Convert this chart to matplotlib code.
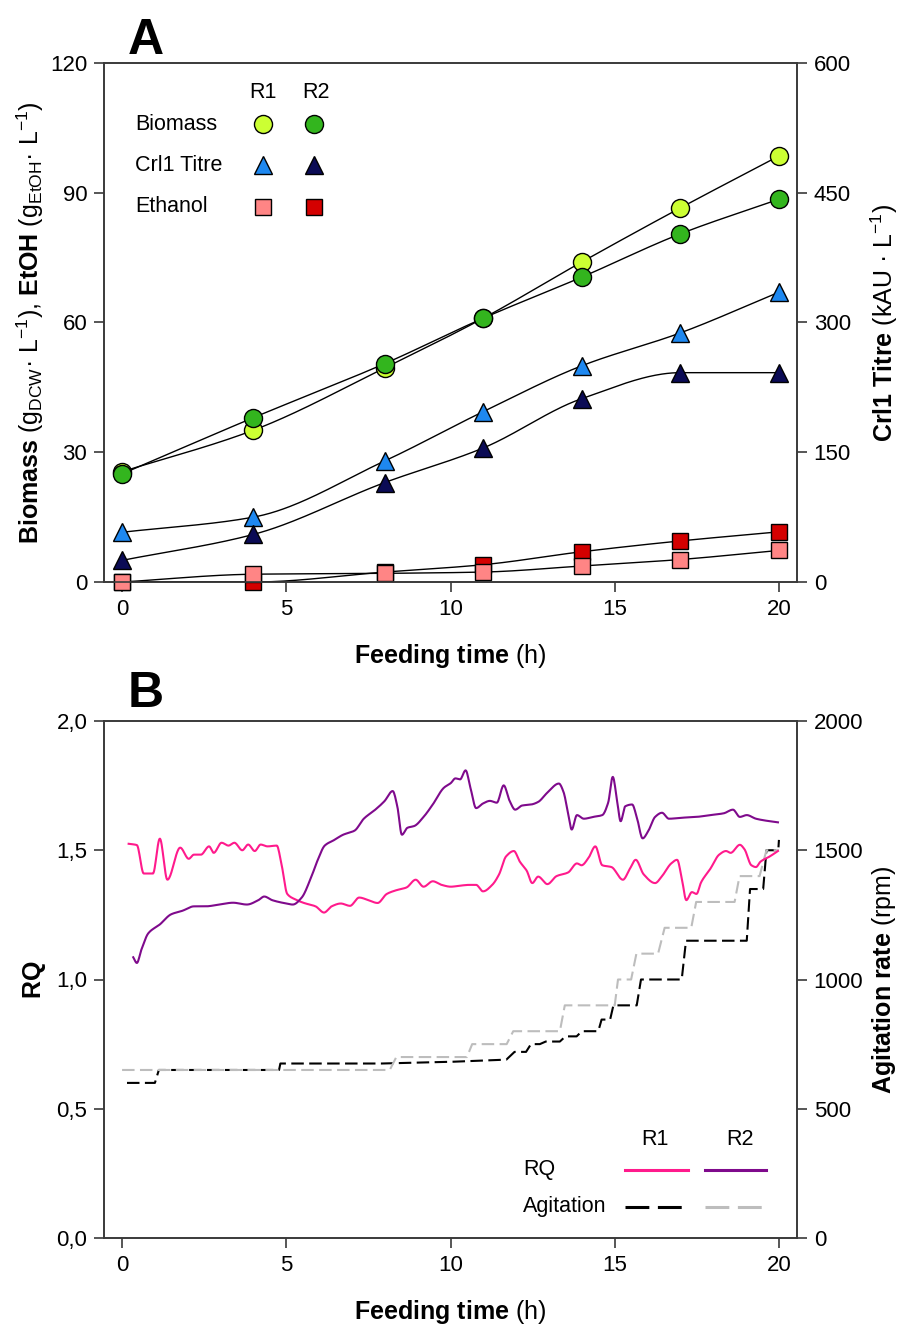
import numpy as np
import matplotlib
matplotlib.use("Agg")
import matplotlib.pyplot as plt

plt.rcParams['font.family'] = ['Liberation Sans', 'DejaVu Sans']
plt.rcParams['mathtext.fontset'] = 'custom'
plt.rcParams['mathtext.rm'] = 'Liberation Sans'
plt.rcParams['mathtext.bf'] = 'Liberation Sans:bold'
plt.rcParams['mathtext.it'] = 'Liberation Sans:italic'

# ---------------- data: panel A ----------------
time_h = [0, 4, 8, 11, 14, 17, 20]
biomass_r1 = [25.5, 35.1, 49.5, 61.0, 74.0, 86.5, 98.5]
biomass_r2 = [25.0, 38.0, 50.5, 61.0, 70.5, 80.5, 88.5]
titre_r1 = [57.5, 75, 140, 197, 250, 288, 335]      # kAU/L
titre_r2 = [25, 55, 115, 155, 212, 242, 242]        # kAU/L
ethanol_r1 = [0.0, 1.8, 2.0, 2.3, 3.7, 5.2, 7.3]
ethanol_r2 = [0.0, 0.0, 2.3, 4.0, 7.0, 9.5, 11.6]

# ---------------- data: panel B ----------------
rq_r1_t = [0.2, 0.45, 0.66, 0.94, 1.15, 1.38, 1.77, 2.03, 2.19, 2.4, 2.65, 2.79, 3.03, 3.24, 3.42, 3.66,
           3.84, 4.04, 4.22, 4.43, 4.71, 4.85, 5.03, 5.27, 5.54, 5.89, 6.15, 6.38, 6.66, 6.94, 7.22, 7.5,
           7.78, 8.06, 8.34, 8.66, 8.94, 9.18, 9.46, 9.73, 10.01, 10.29, 10.57, 10.78, 10.99, 11.27, 11.48,
           11.69, 11.93, 12.11, 12.32, 12.49, 12.67, 12.95, 13.23, 13.58, 13.85, 13.99, 14.2, 14.41, 14.62,
           14.9, 15.25, 15.46, 15.64, 15.88, 16.23, 16.44, 16.72, 16.9, 17.04, 17.18, 17.35, 17.49, 17.63,
           17.91, 18.18, 18.39, 18.53, 18.81, 18.95, 19.16, 19.3, 19.44, 19.72, 19.97]
rq_r1 = [1.525, 1.52, 1.41, 1.41, 1.545, 1.386, 1.51, 1.467, 1.483, 1.483, 1.515, 1.49, 1.529, 1.518, 1.529,
         1.5, 1.522, 1.497, 1.522, 1.515, 1.518, 1.449, 1.331, 1.31, 1.296, 1.283, 1.259, 1.283, 1.294, 1.285,
         1.317, 1.307, 1.296, 1.331, 1.345, 1.356, 1.386, 1.359, 1.38, 1.366, 1.359, 1.363, 1.366, 1.366,
         1.341, 1.366, 1.407, 1.476, 1.497, 1.456, 1.421, 1.373, 1.398, 1.369, 1.4, 1.414, 1.449, 1.442,
         1.47, 1.515, 1.442, 1.435, 1.386, 1.428, 1.463, 1.407, 1.373, 1.4, 1.449, 1.463, 1.393, 1.307,
         1.338, 1.331, 1.376, 1.428, 1.483, 1.497, 1.49, 1.521, 1.504, 1.442, 1.435, 1.456, 1.476, 1.497]

rq_r2_t = [0.34, 0.45, 0.59, 0.8, 1.15, 1.49, 1.84, 2.19, 2.54, 2.96, 3.38, 3.8, 4.15, 4.33, 4.57, 4.92, 5.2,
           5.47, 5.75, 5.96, 6.17, 6.45, 6.73, 7.08, 7.36, 7.71, 7.99, 8.24, 8.38, 8.52, 8.69, 8.9, 9.18,
           9.46, 9.8, 10.01, 10.15, 10.29, 10.46, 10.61, 10.78, 10.99, 11.2, 11.41, 11.62, 11.8, 11.97,
           12.18, 12.46, 12.67, 12.95, 13.3, 13.44, 13.58, 13.69, 13.85, 14.06, 14.34, 14.62, 14.8, 14.94,
           15.08, 15.18, 15.32, 15.53, 15.67, 15.85, 16.02, 16.23, 16.44, 16.65, 17.07, 17.49, 17.91,
           18.32, 18.6, 18.81, 19.02, 19.3, 19.58, 19.97]
rq_r2 = [1.086, 1.064, 1.116, 1.179, 1.213, 1.252, 1.266, 1.283, 1.283, 1.29, 1.297, 1.29, 1.307, 1.321,
         1.307, 1.296, 1.29, 1.317, 1.393, 1.463, 1.518, 1.539, 1.56, 1.576, 1.622, 1.657, 1.69, 1.729,
         1.67, 1.56, 1.587, 1.594, 1.629, 1.677, 1.742, 1.76, 1.778, 1.774, 1.809, 1.74, 1.663, 1.681,
         1.691, 1.684, 1.751, 1.691, 1.657, 1.673, 1.677, 1.687, 1.723, 1.758, 1.726, 1.643, 1.58, 1.636,
         1.622, 1.629, 1.636, 1.684, 1.784, 1.684, 1.612, 1.67, 1.677, 1.629, 1.546, 1.574, 1.629, 1.645,
         1.622, 1.626, 1.629, 1.636, 1.643, 1.657, 1.629, 1.636, 1.622, 1.615, 1.608]

agit_r1_t = [0.15, 1.0, 1.12, 4.78, 4.82, 7.9, 10.1, 11.7, 11.95, 12.3, 12.45, 12.72, 12.9, 13.33, 13.5,
             13.84, 14.0, 14.5, 14.6, 14.86, 14.96, 15.67, 15.8, 17.04, 17.17, 19.02, 19.12, 19.52, 19.62,
             19.98, 20.0]
agit_r1 = [600, 600, 650, 650, 675, 675, 682, 690, 720, 720, 750, 750, 760, 760, 780, 780, 800, 800, 845,
           845, 900, 900, 1000, 1000, 1150, 1150, 1350, 1350, 1500, 1500, 1540]
agit_r2_t = [0.0, 8.15, 8.35, 10.5, 10.66, 11.71, 11.91, 13.33, 13.48, 15.0, 15.1, 15.5, 15.66, 16.32,
             16.52, 17.33, 17.48, 18.65, 18.8, 19.41, 19.62, 20.0]
agit_r2 = [650, 650, 700, 700, 750, 750, 800, 800, 900, 900, 1000, 1000, 1100, 1100, 1200, 1200, 1300,
           1300, 1400, 1400, 1500, 1500]

xticks = [0, 5, 10, 15, 20]
a_left_ticks = [0, 30, 60, 90, 120]
a_right_ticks = [0, 150, 300, 450, 600]
b_left_ticks = [0.0, 0.5, 1.0, 1.5, 2.0]
b_left_labels = ['0,0', '0,5', '1,0', '1,5', '2,0']
b_right_ticks = [0, 500, 1000, 1500, 2000]

# colours
C_BIO1, C_BIO2 = '#CCFF33', '#33B51E'
C_TIT1, C_TIT2 = '#1E88F0', '#0B0B55'
C_ETH1, C_ETH2 = '#FF8585', '#D40000'
C_RQ1, C_RQ2 = '#FF1A8C', '#7F0A8C'
C_AG1, C_AG2 = '#000000', '#BDBDBD'


def pchip(x, y, xs):
    x = np.asarray(x, float); y = np.asarray(y, float); xs = np.asarray(xs, float)
    h = np.diff(x); d = np.diff(y) / h
    n = len(x); m = np.zeros(n)
    for k in range(1, n - 1):
        if d[k - 1] * d[k] <= 0:
            m[k] = 0.0
        else:
            w1 = 2 * h[k] + h[k - 1]; w2 = h[k] + 2 * h[k - 1]
            m[k] = (w1 + w2) / (w1 / d[k - 1] + w2 / d[k])
    m[0] = d[0]; m[-1] = d[-1]
    idx = np.clip(np.searchsorted(x, xs) - 1, 0, n - 2)
    hh = h[idx]; t = (xs - x[idx]) / hh
    h00 = 2 * t**3 - 3 * t**2 + 1; h10 = t**3 - 2 * t**2 + t
    h01 = -2 * t**3 + 3 * t**2; h11 = t**3 - t**2
    return h00 * y[idx] + h10 * hh * m[idx] + h01 * y[idx + 1] + h11 * hh * m[idx + 1]


W, H = 906, 1333
fig = plt.figure(figsize=(W / 100, H / 100), dpi=100)

SP = '#3a3a3a'
TICK_FS = 16
LAB_FS = 18


def style(ax):
    for s in ax.spines.values():
        s.set_color(SP); s.set_linewidth(1.2)
    ax.tick_params(direction='out', length=7, width=1.2, color=SP, labelsize=TICK_FS, pad=5)


axA = fig.add_axes([104 / W, 1 - 582 / H, 693 / W, 519 / H])
axAr = axA.twinx()
axB = fig.add_axes([104 / W, 1 - 1238 / H, 693 / W, 517 / H])
axBr = axB.twinx()
for a in (axA, axAr, axB, axBr):
    style(a)

xs = np.linspace(0, 20, 400)
mk = dict(markeredgecolor='black', markeredgewidth=1.0, linestyle='none', zorder=4)

# Panel A
series_left = [(ethanol_r2, C_ETH2, 's', 11.5), (ethanol_r1, C_ETH1, 's', 11.5),
               (biomass_r1, C_BIO1, 'o', 13), (biomass_r2, C_BIO2, 'o', 13)]
for vals, col, marker, ms in series_left:
    axA.plot(xs, pchip(time_h, vals, xs), color='black', lw=1.0, zorder=3)
for vals, col, marker, ms in series_left:
    axA.plot(time_h, vals, marker=marker, markersize=ms, markerfacecolor=col, clip_on=False, **mk)
for vals, col in [(titre_r1, C_TIT1), (titre_r2, C_TIT2)]:
    axAr.plot(xs, pchip(time_h, vals, xs), color='black', lw=1.0, zorder=3)
    axAr.plot(time_h, vals, marker='^', markersize=13, markerfacecolor=col, clip_on=False, **mk)

axA.set_xlim(-0.55, 20.55)
axA.set_ylim(0, 120)
axAr.set_ylim(0, 600)
axA.set_xticks(xticks)
axA.set_yticks(a_left_ticks)
axAr.set_yticks(a_right_ticks)
axA.set_xlabel(r'$\mathbf{Feeding\ time}$ (h)', fontsize=LAB_FS, labelpad=16)
axA.set_ylabel(r'$\mathbf{Biomass}$ (g$_{\mathrm{DCW}}$· L$^{-1}$), $\mathbf{EtOH}$ (g$_{\mathrm{EtOH}}$· L$^{-1}$)',
               fontsize=LAB_FS, labelpad=3)
axAr.set_ylabel(r'$\mathbf{Crl1\ Titre}$ (kAU · L$^{-1}$)', fontsize=LAB_FS, labelpad=13)

# Panel A legend
LFS = 15.5
axA.text(0.229, 0.944, 'R1', transform=axA.transAxes, ha='center', va='center', fontsize=LFS)
axA.text(0.306, 0.944, 'R2', transform=axA.transAxes, ha='center', va='center', fontsize=LFS)
for label, yy, m, c1, c2, ms in [('Biomass', 0.882, 'o', C_BIO1, C_BIO2, 13),
                                 ('Crl1 Titre', 0.803, '^', C_TIT1, C_TIT2, 13),
                                 ('Ethanol', 0.723, 's', C_ETH1, C_ETH2, 11.5)]:
    axA.text(0.045, yy, label, transform=axA.transAxes, ha='left', va='center', fontsize=LFS)
    axA.plot([0.229], [yy], transform=axA.transAxes, marker=m, markersize=ms, markerfacecolor=c1, **mk)
    axA.plot([0.303], [yy], transform=axA.transAxes, marker=m, markersize=ms, markerfacecolor=c2, **mk)

# Panel B
ts1 = np.linspace(rq_r1_t[0], rq_r1_t[-1], 1200)
ts2 = np.linspace(rq_r2_t[0], rq_r2_t[-1], 1200)
dash = (0, (6, 2.6))
axBr.plot(agit_r1_t, agit_r1, color=C_AG1, lw=1.5, linestyle=dash, zorder=2)
axBr.plot(agit_r2_t, agit_r2, color=C_AG2, lw=1.5, linestyle=dash, zorder=2)
axB.plot(ts1, pchip(rq_r1_t, rq_r1, ts1), color=C_RQ1, lw=1.5)
axB.plot(ts2, pchip(rq_r2_t, rq_r2, ts2), color=C_RQ2, lw=1.5)
axB.set_zorder(axBr.get_zorder() + 1)
axB.patch.set_visible(False)

axB.set_xlim(-0.55, 20.55)
axB.set_ylim(0, 2.0)
axBr.set_ylim(0, 2000)
axB.set_xticks(xticks)
axB.set_yticks(b_left_ticks)
axB.set_yticklabels(b_left_labels)
axBr.set_yticks(b_right_ticks)
axB.set_xlabel(r'$\mathbf{Feeding\ time}$ (h)', fontsize=LAB_FS, labelpad=16)
axB.set_ylabel(r'$\mathbf{RQ}$', fontsize=LAB_FS, labelpad=6)
axBr.set_ylabel(r'$\mathbf{Agitation\ rate}$ (rpm)', fontsize=LAB_FS, labelpad=5)

# Panel B legend
axB.text(0.795, 0.19, 'R1', transform=axB.transAxes, ha='center', va='center', fontsize=LFS)
axB.text(0.918, 0.19, 'R2', transform=axB.transAxes, ha='center', va='center', fontsize=LFS)
axB.text(0.605, 0.132, 'RQ', transform=axB.transAxes, ha='left', va='center', fontsize=LFS)
axB.text(0.605, 0.060, 'Agitation', transform=axB.transAxes, ha='left', va='center', fontsize=LFS)
axB.plot([0.752, 0.843], [0.132, 0.132], transform=axB.transAxes, color=C_RQ1, lw=2.2)
axB.plot([0.867, 0.955], [0.132, 0.132], transform=axB.transAxes, color=C_RQ2, lw=2.2)
axB.plot([0.752, 0.843], [0.060, 0.060], transform=axB.transAxes, color=C_AG1, lw=2.2, linestyle=(0, (7.8, 2.8)))
axB.plot([0.867, 0.955], [0.060, 0.060], transform=axB.transAxes, color=C_AG2, lw=2.2, linestyle=(0, (7.8, 2.8)))

fig.text(128 / W, 1 - 18 / H, 'A', fontsize=36, fontweight='bold', ha='left', va='top')
fig.text(128 / W, 1 - 671 / H, 'B', fontsize=36, fontweight='bold', ha='left', va='top')

fig.savefig('out.png', dpi=100)
